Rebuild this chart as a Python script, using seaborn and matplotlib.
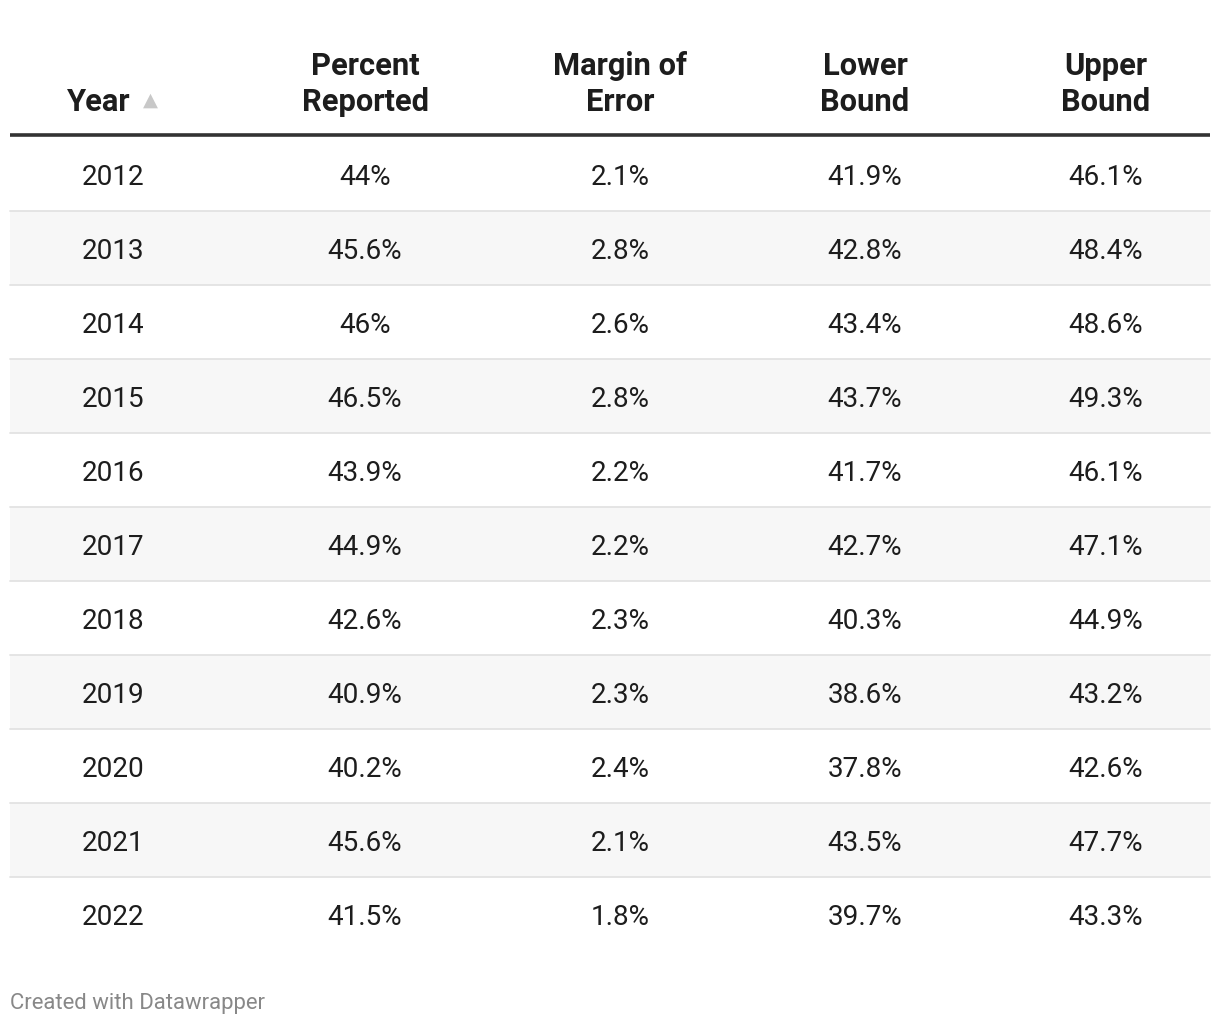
import matplotlib
matplotlib.use("Agg")
import matplotlib.pyplot as plt
import seaborn as sns

years = [2012, 2013, 2014, 2015, 2016, 2017, 2018, 2019, 2020, 2021, 2022]
percent_reported = [44, 45.6, 46, 46.5, 43.9, 44.9, 42.6, 40.9, 40.2, 45.6, 41.5]
margin_of_error = [2.1, 2.8, 2.6, 2.8, 2.2, 2.2, 2.3, 2.3, 2.4, 2.1, 1.8]
lower_bound = [41.9, 42.8, 43.4, 43.7, 41.7, 42.7, 40.3, 38.6, 37.8, 43.5, 39.7]
upper_bound = [46.1, 48.4, 48.6, 49.3, 46.1, 47.1, 44.9, 43.2, 42.6, 47.7, 43.3]
headers = [["Year"], ["Percent", "Reported"], ["Margin of", "Error"], ["Lower", "Bound"], ["Upper", "Bound"]]
footer = "Created with Datawrapper"

sns.set_theme(style="white")
plt.rcParams['font.family'] = ['Roboto', 'DejaVu Sans']

W, H = 1220, 1026
fig = plt.figure(figsize=(W / 100, H / 100), dpi=100)
ax = fig.add_axes([0, 0, 1, 1])
ax.set_xlim(0, W)
ax.set_ylim(H, 0)
ax.axis("off")

col_x = [113, 365, 620, 865, 1106]
left, right = 10, 1210
header_line_y = 135
row_top = 137
row_h = 74
hfs = 22.2
bfs = 20.1

# header
for j, (cx, lines) in enumerate(zip(col_x, headers)):
    if j == 0:
        ax.text(99, 102, lines[0], ha="center", va="center", fontsize=hfs,
                fontweight="bold", color="#1d1d1d")
    else:
        ax.text(cx, 66, lines[0], ha="center", va="center", fontsize=hfs,
                fontweight="bold", color="#1d1d1d")
        ax.text(cx, 102, lines[1], ha="center", va="center", fontsize=hfs,
                fontweight="bold", color="#1d1d1d")
ax.text(150, 100, "\u25B2", ha="center", va="center", fontsize=14,
        color="#c8c8c8", family=["DejaVu Sans"])
ax.plot([left, right], [header_line_y, header_line_y], color="#333333", lw=2.6,
        solid_capstyle="butt")

cols = [years, percent_reported, margin_of_error, lower_bound, upper_bound]
n = len(years)
for i in range(n):
    top = row_top + i * row_h
    bottom = top + row_h
    if i % 2 == 1:
        ax.fill_between([left, right], top, bottom, color="#f7f7f7", lw=0)
    if i < n - 1:
        ax.plot([left, right], [bottom, bottom], color="#e3e3e3", lw=1.3)
    cy = top + row_h / 2 + 3.5
    for j, (cx, col) in enumerate(zip(col_x, cols)):
        v = col[i]
        s = str(v) if j == 0 else f"{v:g}%"
        ax.text(cx, cy, s, ha="center", va="center", fontsize=bfs, color="#1d1d1d")

ax.text(10, 1003, footer, ha="left", va="center", fontsize=15.9, color="#888888")

fig.savefig("out.png", dpi=100, facecolor="white")
